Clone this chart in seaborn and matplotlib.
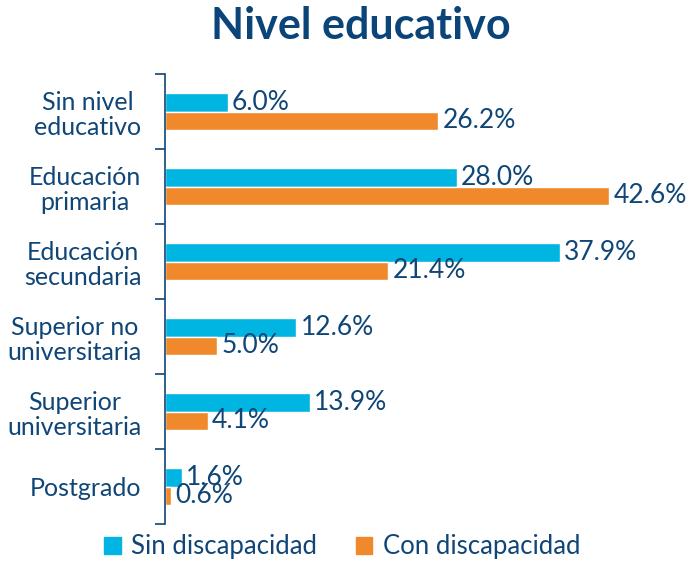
import matplotlib
matplotlib.use('Agg')
import matplotlib.pyplot as plt
import seaborn as sns
import pandas as pd
import numpy as np

# Data
categories = ['Sin nivel\neducativo', 'Educación\nprimaria', 'Educación\nsecundaria',
              'Superior no\nuniversitaria', 'Superior\nuniversitaria', 'Postgrado']
series_names = ['Sin discapacidad', 'Con discapacidad']
sin_disc = [6.0, 28.0, 37.9, 12.6, 13.9, 1.6]
con_disc = [26.2, 42.6, 21.4, 5.0, 4.1, 0.6]

BLUE = '#00B5E2'
ORANGE = '#F0892B'
NAVY = '#0F4677'

sns.set_theme(style='white')
plt.rcParams['font.family'] = ['Lato', 'DejaVu Sans']

df = pd.DataFrame({
    'categoria': categories * 2,
    'serie': [series_names[0]] * len(categories) + [series_names[1]] * len(categories),
    'valor': sin_disc + con_disc,
})

fig = plt.figure(figsize=(6.94, 5.62), dpi=100)
ax = fig.add_axes([0.2378, 0.0676, 0.751, 0.8007])

sns.barplot(data=df, y='categoria', x='valor', hue='serie', orient='h',
            palette=[BLUE, ORANGE], width=0.5, saturation=1, ax=ax,
            order=categories, hue_order=series_names, legend=False)

for cont in ax.containers:
    labels = [f'{v:.1f}%' for v in cont.datavalues]
    texts = ax.bar_label(cont, labels=labels, padding=3, fontsize=19, color=NAVY)
    for t in texts:
        t.set_va('center')

ax.set_xlim(0, 50)
ax.set_ylim(len(categories) - 0.5, -0.5)
ax.set_xlabel('')
ax.set_ylabel('')
ax.set_xticks([])

for s in ['top', 'right', 'bottom']:
    ax.spines[s].set_visible(False)
ax.spines['left'].set_color(NAVY)
ax.spines['left'].set_linewidth(1.2)

ax.set_yticks(np.arange(len(categories)))
ax.set_yticklabels(categories, fontsize=18, color=NAVY, multialignment='center',
                   linespacing=1.15)
ax.set_yticks(np.arange(len(categories) + 1) - 0.5, minor=True)
ax.tick_params(axis='y', which='major', left=False, length=0, pad=17)
ax.tick_params(axis='y', which='minor', left=True, length=7, width=1.2, color=NAVY,
               direction='out')

fig.text(0.52, 0.953, 'Nivel educativo', ha='center', va='center',
         fontsize=31, fontweight='bold', color='#0A4478')

handles = [plt.Rectangle((0, 0), 1, 1, color=BLUE), plt.Rectangle((0, 0), 1, 1, color=ORANGE)]
fig.legend(handles, series_names, loc='center', bbox_to_anchor=(0.493, 0.027), ncol=2,
           frameon=False, fontsize=18.5, labelcolor=NAVY, handlelength=0.65,
           handleheight=0.65, handletextpad=0.4, columnspacing=1.5)

fig.savefig('out.png', dpi=100)
